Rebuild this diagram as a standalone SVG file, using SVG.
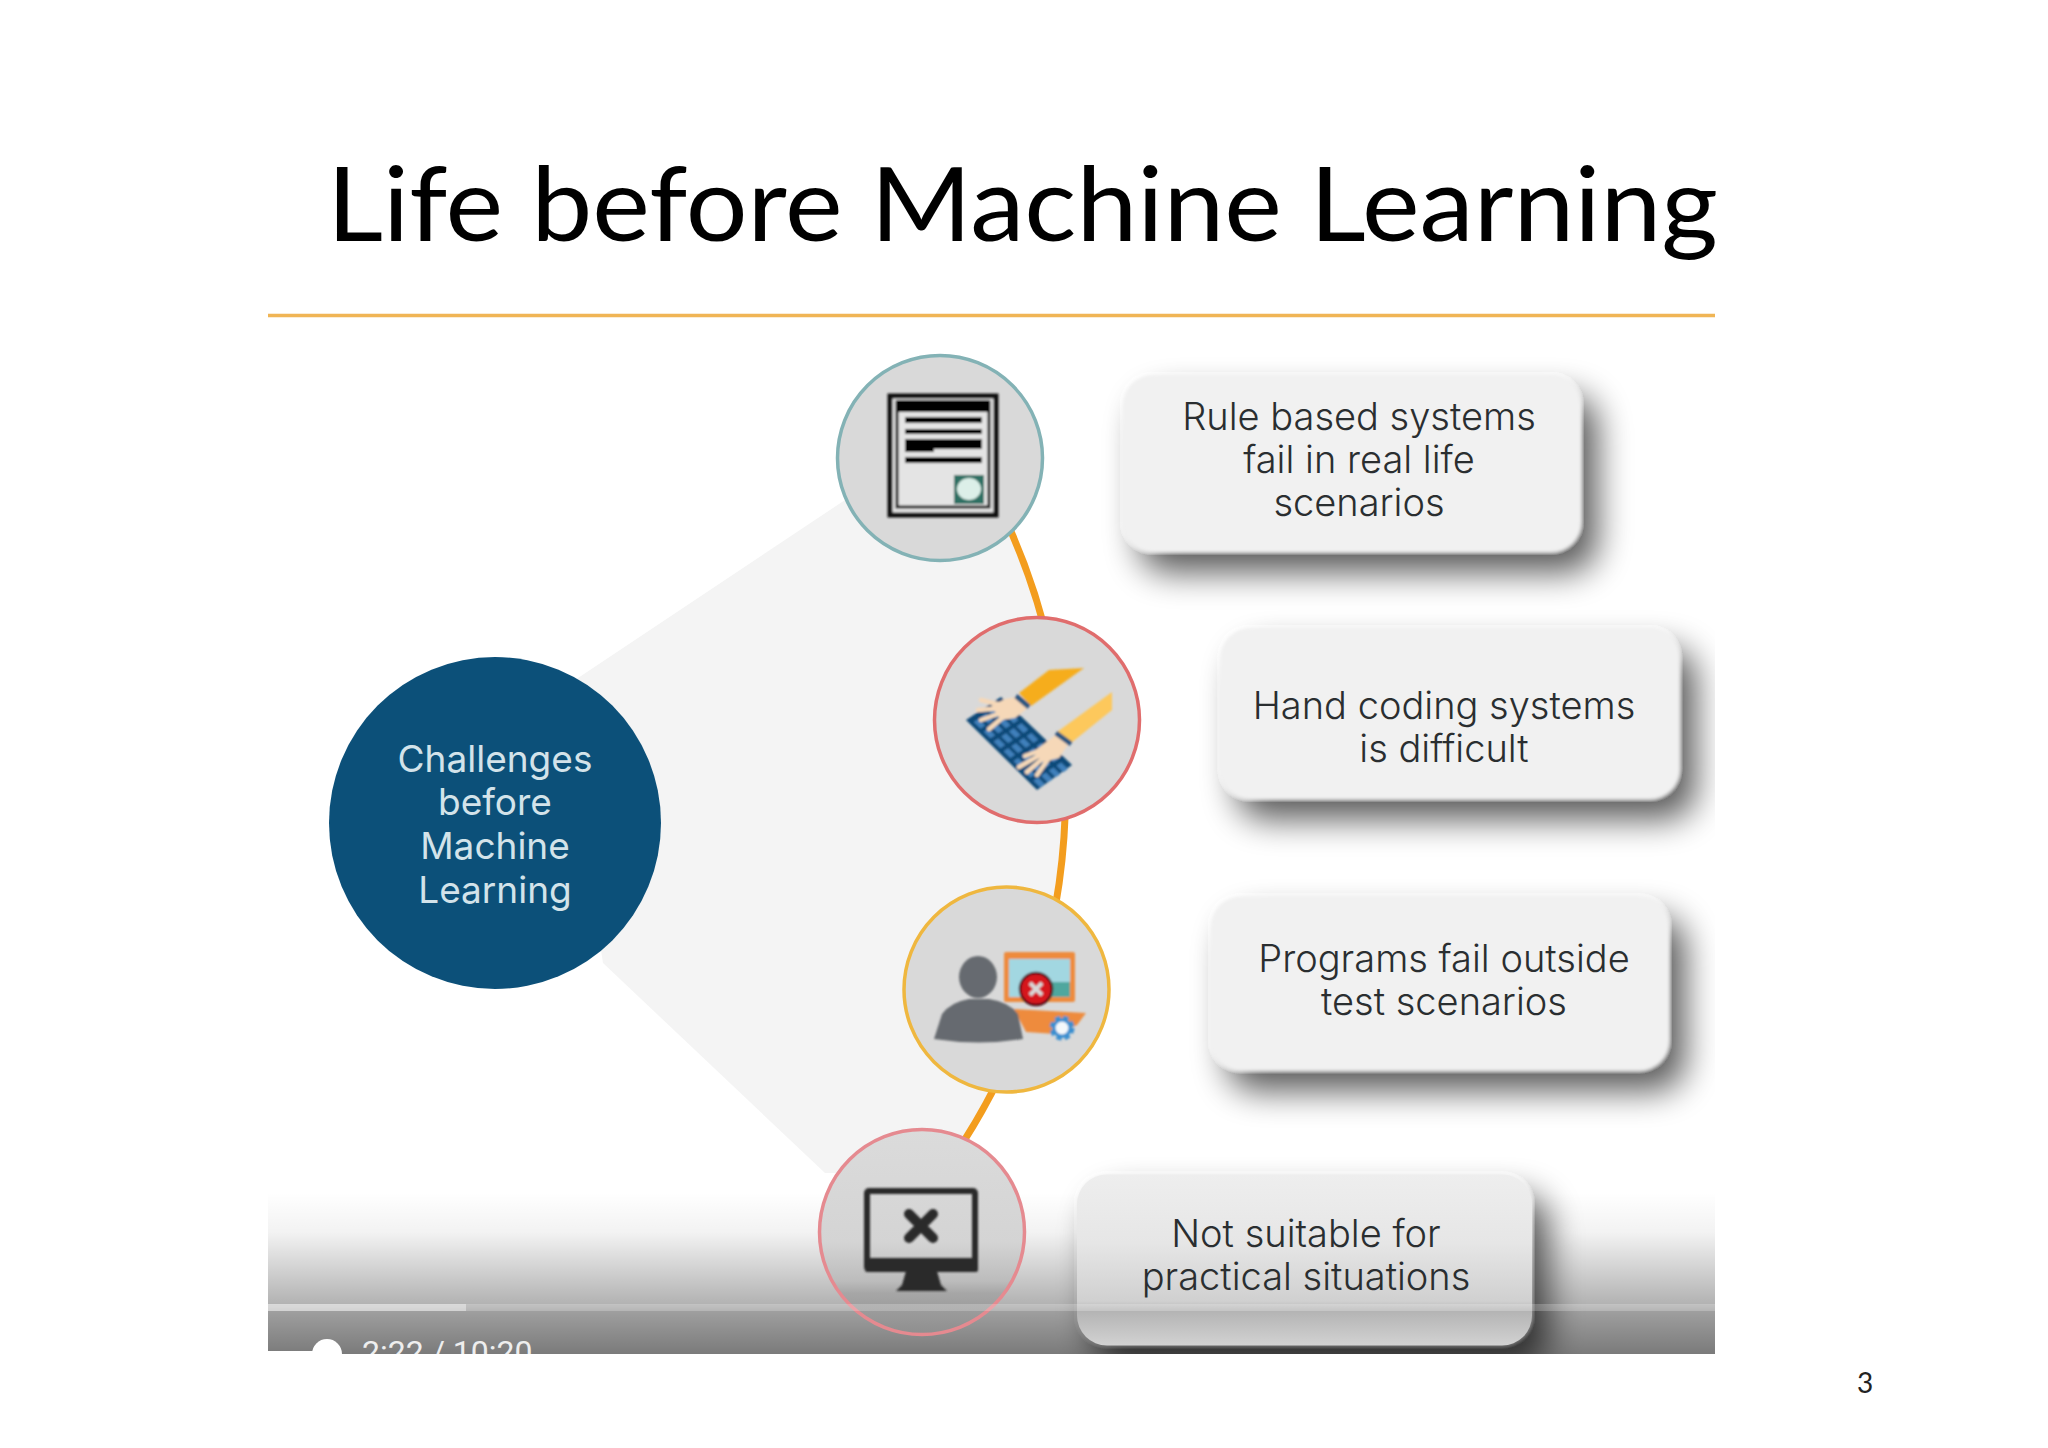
<svg xmlns="http://www.w3.org/2000/svg" width="2048" height="1448" viewBox="0 0 2048 1448">
<style>
.t{font-family:"Inter","Liberation Sans",sans-serif;font-size:38px;font-weight:300;fill:#2a2e30;text-anchor:middle}
.h{fill:#d3e3ea;font-size:37px;font-weight:400}
.c{fill:#d9d9d9;stroke-width:3.5}
.b{fill:#f1f1f1}
</style>
<defs>
<clipPath id="photo"><rect x="268" y="300" width="1447" height="1054"/></clipPath>
<filter id="shadow" x="-20%" y="-35%" width="150%" height="190%"><feGaussianBlur in="SourceAlpha" stdDeviation="17"/><feOffset dx="16" dy="20"/><feComponentTransfer result="s"><feFuncA type="linear" slope="0.66"/></feComponentTransfer><feGaussianBlur in="SourceGraphic" stdDeviation="1.4" result="g"/><feMerge><feMergeNode in="s"/><feMergeNode in="g"/></feMerge></filter>
<filter id="soft"><feGaussianBlur stdDeviation="0.9"/></filter>
<linearGradient id="fade" x1="0" y1="0" x2="0" y2="1"><stop offset="0" stop-color="#000" stop-opacity="0"/><stop offset=".25" stop-color="#000" stop-opacity=".05"/><stop offset=".69" stop-color="#000" stop-opacity=".3"/><stop offset=".74" stop-color="#000" stop-opacity=".38"/><stop offset="1" stop-color="#000" stop-opacity=".52"/></linearGradient>
<linearGradient id="box4" x1="0" y1="0" x2="0" y2="1"><stop offset="0" stop-color="#eeeeee"/><stop offset=".4" stop-color="#e6e6e6"/><stop offset=".74" stop-color="#d0d0d0"/><stop offset=".8" stop-color="#b4b4b4"/><stop offset="1" stop-color="#d2d2d2"/></linearGradient>
<linearGradient id="disc4" x1="0" y1="0" x2="0" y2="1"><stop offset="0" stop-color="#dbdbdb"/><stop offset=".55" stop-color="#d4d4d4"/><stop offset=".74" stop-color="#bcbcbc"/><stop offset=".8" stop-color="#a6a6a6"/><stop offset="1" stop-color="#8e8e8e"/></linearGradient>
<rect id="key" width="0.95" height="1.35" fill="#3f80bb"/>
</defs>
<rect width="2048" height="1448" fill="#fff"/>
<text x="327" y="241" font-family="Lato,'Liberation Sans',sans-serif" font-size="103" fill="#000" textLength="1391" lengthAdjust="spacingAndGlyphs">Life before Machine Learning</text>
<line x1="268" y1="315.500" x2="1715" y2="315.500" stroke="#f0b555" stroke-width="3.500"/>
<g clip-path="url(#photo)">
<path id="wedge" d="M560 690L860 490L989.500 487A650 650 0 0 1 941.500 1174L825 1173L603 963Z" fill="#f4f4f4"/>
<g id="connectors"><path d="M989.500 487A650 650 0 0 1 941.500 1174" fill="none" stroke="#f39d1e" stroke-width="7"/></g>
<g id="hub"><circle cx="495" cy="823" r="166" fill="#0c5079"/><text class="t h" x="495" y="772">Challenges</text><text class="t h" x="495" y="815">before</text><text class="t h" x="495" y="859">Machine</text><text class="t h" x="495" y="903">Learning</text></g>
<g id="node-rule">
<circle class="c" cx="940" cy="458" r="102.500" stroke="#83b2b5"/>
<g filter="url(#soft)" transform="translate(-1 0)">
<rect x="891" y="396" width="106" height="119" fill="#e4e4e4" stroke="#111" stroke-width="5"/>
<rect x="898" y="402" width="92" height="105" fill="none" stroke="#222" stroke-width="3"/>
<rect x="898" y="400" width="92" height="12" fill="#000"/>
<rect x="906" y="417" width="77" height="6" fill="#000"/><rect x="906" y="429" width="77" height="5" fill="#000"/><rect x="906" y="439" width="77" height="10" fill="#000"/><rect x="906" y="449" width="29" height="3" fill="#000"/><rect x="906" y="457" width="77" height="6" fill="#000"/>
<rect x="955" y="475" width="30" height="29" fill="#2f6f63"/><ellipse cx="970" cy="489" rx="12" ry="11" fill="#dcefe8"/>
</g>
</g>
<g id="node-hand">
<circle class="c" cx="1037" cy="720" r="102.500" stroke="#e06d6d"/>
<g filter="url(#soft)" transform="translate(-1 0)">
<path d="M1020 693L1050 670L1085 668L1032 706Z" fill="#f6ad1f"/>
<path d="M1058 732L1113 692V710L1072 743Z" fill="#fdc85c"/>
<path d="M967 720L1002 697L1073 765L1038 790Z" fill="#104a78"/>
<g transform="matrix(7.1 7 3.5 -2.3 967 720)">
<use href="#key" x="0.6" y="1"/><use href="#key" x="2" y="1"/><use href="#key" x="3.4" y="1"/><use href="#key" x="4.8" y="1"/><use href="#key" x="6.2" y="1"/><use href="#key" x="7.6" y="1"/><use href="#key" x="9" y="1"/>
<use href="#key" x="0.6" y="3.2"/><use href="#key" x="2" y="3.2"/><use href="#key" x="3.4" y="3.2"/><use href="#key" x="4.8" y="3.2"/><use href="#key" x="6.2" y="3.2"/><use href="#key" x="7.6" y="3.2"/><use href="#key" x="9" y="3.2"/>
<use href="#key" x="0.6" y="5.4"/><use href="#key" x="2" y="5.4"/><use href="#key" x="3.4" y="5.4"/><use href="#key" x="4.8" y="5.4"/><use href="#key" x="6.2" y="5.4"/><use href="#key" x="7.6" y="5.4"/><use href="#key" x="9" y="5.4"/>
<use href="#key" x="0.6" y="7.6"/><use href="#key" x="2" y="7.6"/><use href="#key" x="3.4" y="7.6"/><use href="#key" x="4.8" y="7.6"/><use href="#key" x="6.2" y="7.6"/><use href="#key" x="7.6" y="7.6"/><use href="#key" x="9" y="7.6"/>
</g>
<path d="M1018 697L1030 707L1016 718L1002 720L992 706L1006 699Z" fill="#f6d8b8"/>
<path d="M1006 706L982 700M1006 708L979 710M1007 711L982 720M1009 713L990 729" stroke="#f6d8b8" stroke-width="4.500" stroke-linecap="round" fill="none"/>
<path d="M1058 734L1070 743L1060 758L1044 762L1034 752Z" fill="#f6d8b8"/>
<path d="M1048 748L1026 756M1048 751L1020 767M1050 753L1028 772M1052 755L1038 775" stroke="#f6d8b8" stroke-width="4.500" stroke-linecap="round" fill="none"/>
<path d="M1017 696L1030 707M1057 733L1072 744" stroke="#2a5680" stroke-width="5" fill="none"/>
</g>
</g>
<g id="node-programs">
<circle class="c" cx="1006.500" cy="989.500" r="102.500" stroke="#efb73f"/>
<g filter="url(#soft)" transform="translate(-1 2)">
<rect x="1005" y="950" width="71" height="50" rx="2" fill="#ee8b3c"/>
<rect x="1010" y="957" width="61" height="38" fill="#a2d7e1"/>
<rect x="1052" y="980" width="19" height="15" fill="#4fa79e"/>
<path d="M1015 1007L1087 1011L1078 1023L1057 1032L1027 1030Z" fill="#ee8b3c"/>
<ellipse cx="979" cy="975" rx="19" ry="21" fill="#666b70"/>
<path d="M935 1037L943 1012Q952 1000 970 997L990 997Q1010 1000 1019 1012L1024 1037Q980 1044 935 1037Z" fill="#666b70"/>
<circle cx="1037" cy="987" r="16" fill="#d6121e" stroke="#4a1014" stroke-width="2.500"/>
<path d="M1031 981L1043 993M1043 981L1031 993" stroke="#d8d8d8" stroke-width="4"/>
<circle cx="1063" cy="1026" r="10" fill="#3a8fd0" stroke="#3a8fd0" stroke-width="5" stroke-dasharray="5 3"/>
<circle cx="1063" cy="1026" r="6.500" fill="#f4f8fb"/>
</g>
</g>
<g id="box-rule"><rect class="b" x="1123" y="375" width="458" height="177" rx="30" filter="url(#shadow)"/><text class="t" x="1359" y="430">Rule based systems</text><text class="t" x="1359" y="473">fail in real life</text><text class="t" x="1359" y="516">scenarios</text></g>
<g id="box-hand"><rect class="b" x="1220.500" y="628" width="459" height="171" rx="30" filter="url(#shadow)"/><text class="t" x="1444" y="719">Hand coding systems</text><text class="t" x="1444" y="762">is difficult</text></g>
<g id="box-programs"><rect class="b" x="1211" y="896.500" width="458" height="174" rx="30" filter="url(#shadow)"/><text class="t" x="1444" y="972">Programs fail outside</text><text class="t" x="1444" y="1015">test scenarios</text></g>
<rect id="box4-shadow" class="b" x="1077" y="1174.500" width="455" height="171" rx="30" filter="url(#shadow)"/>
<rect x="268" y="1192" width="1447" height="162" fill="url(#fade)"/>
<g id="node-unsuitable">
<circle cx="922" cy="1232" r="102.500" fill="url(#disc4)" stroke="#e58a90" stroke-width="3.500"/>
<g filter="url(#soft)" transform="translate(-1 1)">
<path d="M907 1270H938L942 1284L948 1290H897L903 1284Z" fill="#2a2a2a"/>
<rect x="868" y="1190" width="108" height="78" rx="2" fill="none" stroke="#2a2a2a" stroke-width="6"/>
<rect x="866" y="1257" width="113" height="14" rx="2" fill="#2a2a2a"/>
<path d="M910 1213L934 1237M934 1213L910 1237" stroke="#2a2a2a" stroke-width="10" stroke-linecap="round"/>
</g>
</g>
<g id="box-unsuitable"><rect x="1077" y="1174.500" width="455" height="171" rx="30" fill="url(#box4)"/><text class="t" x="1306" y="1247">Not suitable for</text><text class="t" x="1306" y="1290">practical situations</text></g>
<g id="player">
<rect x="268" y="1304" width="1447" height="7" fill="#fff" fill-opacity=".22"/>
<rect x="268" y="1304" width="198" height="7" fill="#fff" fill-opacity=".4"/>
<rect x="268" y="1351" width="50" height="3" fill="#fff"/>
<circle cx="327" cy="1354" r="15" fill="#fff"/>
<text x="362" y="1363" font-family="Roboto,'Liberation Sans',sans-serif" font-size="32" fill="#eeeeee">2:22 / 10:20</text>
</g>
</g>
<text x="1857" y="1393" font-family="Lato,'Liberation Sans',sans-serif" font-size="28" fill="#222">3</text>
</svg>
